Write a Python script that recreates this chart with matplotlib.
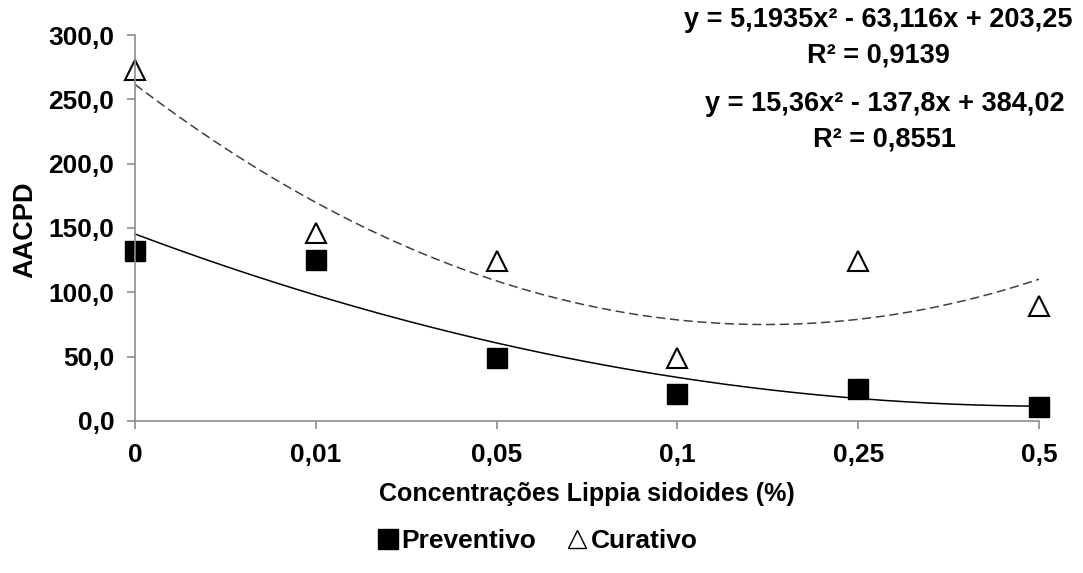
import numpy as np
import matplotlib
matplotlib.use('Agg')
import matplotlib.pyplot as plt
from matplotlib.lines import Line2D

plt.rcParams['font.family'] = ['Liberation Sans', 'DejaVu Sans']

categorias = ['0', '0,01', '0,05', '0,1', '0,25', '0,5']
preventivo = [132, 125, 49, 21, 25, 11]
curativo = [273, 146, 124, 49, 124, 89]
# trend coefficients printed on the chart (x = category index 1..6)
coef_prev = [5.1935, -63.116, 203.25]
coef_cur = [15.36, -137.8, 384.02]
eq_prev = 'y = 5,1935x² - 63,116x + 203,25\nR² = 0,9139'
eq_cur = 'y = 15,36x² - 137,8x + 384,02\nR² = 0,8551'
yticks = [0, 50, 100, 150, 200, 250, 300]

fig = plt.figure(figsize=(10.83, 5.73), dpi=100)
ax = fig.add_axes([0.1247, 0.2653, 0.8347, 0.6736])

x = np.arange(1, len(categorias) + 1)
xs = np.linspace(1, len(categorias), 200)

ax.plot(xs, np.polyval(coef_cur, xs), color='#404040', lw=1.1, ls=(0, (6, 3)))
ax.plot(xs, np.polyval(coef_prev, xs), color='black', lw=1.1)
ax.plot(x, preventivo, ls='none', marker='s', ms=14, mfc='black', mec='black', clip_on=False)
ax.plot(x, curativo, ls='none', marker='^', ms=15, mfc='white', mec='black', mew=1.5, clip_on=False)

ax.set_xlim(1, len(categorias))
ax.set_ylim(0, 300)
ax.set_xticks(x)
ax.set_xticklabels(categorias)
ax.set_yticks(yticks)
ax.set_yticklabels(['%d,0' % v for v in yticks])

for s in ['top', 'right']:
    ax.spines[s].set_visible(False)
for s in ['left', 'bottom']:
    ax.spines[s].set_color('#8c8c8c')
    ax.spines[s].set_linewidth(1.2)
ax.tick_params(axis='both', colors='#8c8c8c', length=6, width=1.2, labelsize=19,
               labelcolor='black')
ax.tick_params(axis='y', pad=9)
ax.tick_params(axis='x', pad=10)
for t in ax.get_xticklabels() + ax.get_yticklabels():
    t.set_fontweight('bold')

ax.set_ylabel('AACPD', fontsize=19.5, fontweight='bold')
ax.yaxis.set_label_coords(-0.1075, 0.496)
ax.set_xlabel('Concentrações Lippia sidoides (%)', fontsize=18, fontweight='bold', labelpad=11)

fig.text(0.811, 0.988, eq_prev, ha='center', va='top', fontsize=19.5, fontweight='bold',
         linespacing=1.5)
fig.text(0.817, 0.842, eq_cur, ha='center', va='top', fontsize=19.5, fontweight='bold',
         linespacing=1.5)

handles = [Line2D([], [], ls='none', marker='s', ms=14, mfc='black', mec='black'),
           Line2D([], [], ls='none', marker='^', ms=13, mfc='white', mec='black', mew=1.0)]
fig.legend(handles, ['Preventivo', 'Curativo'], loc='center', bbox_to_anchor=(0.497, 0.056),
           ncol=2, frameon=False, handlelength=0.7, handletextpad=0.15, columnspacing=1.2,
           prop={'size': 19, 'weight': 'bold'})

fig.savefig('out.png', dpi=100)
